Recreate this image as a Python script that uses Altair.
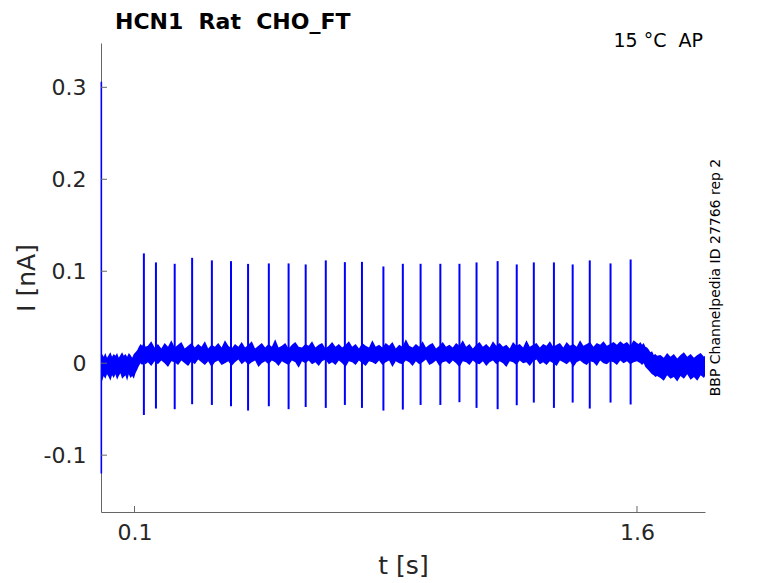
import altair as alt
import pandas as pd

# ---- data ----
# noise envelope of the current trace: time (s), upper edge and lower edge (nA)
t_pre = [0.000, 0.003, 0.008, 0.013, 0.018, 0.023, 0.028, 0.033, 0.038, 0.043, 0.048,
         0.053, 0.058, 0.063, 0.068, 0.073, 0.078, 0.083, 0.088, 0.093, 0.098]
hi_pre = [0.004, 0.010, 0.007, 0.011, 0.006, 0.009, 0.012, 0.007, 0.010, 0.008, 0.011,
          0.006, 0.009, 0.012, 0.008, 0.010, 0.007, 0.011, 0.009, 0.006, 0.010]
lo_pre = [-0.026, -0.020, -0.014, -0.017, -0.012, -0.015, -0.019, -0.013, -0.016, -0.012, -0.018,
          -0.014, -0.011, -0.017, -0.015, -0.013, -0.019, -0.012, -0.016, -0.014, -0.017]

t_rise = [0.103, 0.108, 0.113, 0.118, 0.123, 0.128, 0.133]
hi_rise = [0.012, 0.014, 0.018, 0.021, 0.019, 0.023, 0.018]
lo_rise = [-0.011, -0.007, -0.003, 0.000, -0.002, 0.001, -0.001]

t_mid = [0.14, 0.15, 0.16, 0.17, 0.18, 0.19, 0.20, 0.21, 0.22, 0.23,
         0.24, 0.25, 0.26, 0.27, 0.28, 0.29, 0.30, 0.31, 0.32, 0.33,
         0.34, 0.35, 0.36, 0.37, 0.38, 0.39, 0.40, 0.41, 0.42, 0.43,
         0.44, 0.45, 0.46, 0.47, 0.48, 0.49, 0.50, 0.51, 0.52, 0.53,
         0.54, 0.55, 0.56, 0.57, 0.58, 0.59, 0.60, 0.61, 0.62, 0.63,
         0.64, 0.65, 0.66, 0.67, 0.68, 0.69, 0.70, 0.71, 0.72, 0.73,
         0.74, 0.75, 0.76, 0.77, 0.78, 0.79, 0.80, 0.81, 0.82, 0.83,
         0.84, 0.85, 0.86, 0.87, 0.88, 0.89, 0.90, 0.91, 0.92, 0.93,
         0.94, 0.95, 0.96, 0.97, 0.98, 0.99, 1.00, 1.01, 1.02, 1.03,
         1.04, 1.05, 1.06, 1.07, 1.08, 1.09, 1.10, 1.11, 1.12, 1.13,
         1.14, 1.15, 1.16, 1.17, 1.18, 1.19, 1.20, 1.21, 1.22, 1.23,
         1.24, 1.25, 1.26, 1.27, 1.28, 1.29, 1.30, 1.31, 1.32, 1.33,
         1.34, 1.35, 1.36, 1.37, 1.38, 1.39, 1.40, 1.41, 1.42, 1.43,
         1.44, 1.45, 1.46, 1.47, 1.48, 1.49, 1.50, 1.51, 1.52, 1.53,
         1.54, 1.55, 1.56, 1.57, 1.58, 1.59, 1.60]
hi_mid = [0.019, 0.024, 0.017, 0.021, 0.016, 0.022, 0.018, 0.025, 0.017, 0.020,
          0.023, 0.016, 0.019, 0.022, 0.017, 0.021, 0.018, 0.024, 0.016, 0.020,
          0.018, 0.022, 0.017, 0.025, 0.019, 0.016, 0.021, 0.018, 0.023, 0.017,
          0.020, 0.024, 0.016, 0.019, 0.022, 0.017, 0.021, 0.018, 0.026, 0.017,
          0.019, 0.022, 0.016, 0.020, 0.023, 0.018, 0.017, 0.021, 0.019, 0.024,
          0.017, 0.020, 0.022, 0.016, 0.019, 0.023, 0.018, 0.021, 0.017, 0.020,
          0.024, 0.018, 0.021, 0.016, 0.022, 0.019, 0.017, 0.025, 0.018, 0.020,
          0.017, 0.022, 0.019, 0.023, 0.016, 0.020, 0.018, 0.026, 0.019, 0.017,
          0.021, 0.018, 0.024, 0.017, 0.020, 0.022, 0.016, 0.019, 0.023, 0.018,
          0.020, 0.017, 0.022, 0.019, 0.025, 0.018, 0.021, 0.016, 0.020, 0.023,
          0.018, 0.021, 0.017, 0.024, 0.019, 0.022, 0.018, 0.020, 0.016, 0.023,
          0.019, 0.021, 0.017, 0.025, 0.018, 0.020, 0.022, 0.017, 0.021, 0.019,
          0.024, 0.018, 0.020, 0.022, 0.017, 0.023, 0.019, 0.021, 0.018, 0.025,
          0.019, 0.021, 0.023, 0.018, 0.022, 0.020, 0.024, 0.019, 0.021, 0.023,
          0.020, 0.024, 0.021, 0.023, 0.019, 0.025, 0.022]
lo_mid = [0.001, -0.003, 0.002, -0.001, 0.003, 0.000, -0.004, 0.002, 0.001, -0.002,
          0.003, 0.000, -0.003, 0.002, -0.001, 0.004, 0.001, -0.002, 0.002, -0.004,
          0.001, 0.003, -0.002, 0.000, 0.002, -0.003, 0.001, 0.004, -0.001, 0.002,
          -0.002, 0.001, 0.003, -0.004, 0.000, 0.002, -0.001, 0.003, 0.001, -0.003,
          0.002, 0.000, -0.002, 0.003, 0.001, -0.005, 0.002, 0.000, 0.003, -0.001,
          0.001, -0.003, 0.002, 0.004, -0.001, 0.001, -0.002, 0.003, 0.000, -0.004,
          0.002, 0.001, -0.002, 0.003, 0.000, -0.003, 0.002, 0.001, -0.001, 0.003,
          -0.002, 0.001, 0.003, -0.004, 0.002, 0.000, -0.001, 0.003, 0.001, -0.003,
          0.002, -0.001, 0.001, 0.004, -0.002, 0.000, 0.003, -0.003, 0.001, 0.002,
          -0.001, 0.003, 0.000, -0.004, 0.002, 0.001, -0.002, 0.003, 0.000, -0.001,
          0.002, -0.003, 0.001, 0.003, -0.001, 0.002, 0.000, -0.004, 0.002, 0.001,
          -0.002, 0.003, 0.000, 0.001, -0.003, 0.002, 0.004, -0.001, 0.001, -0.002,
          0.002, 0.000, -0.003, 0.003, 0.001, -0.001, 0.002, -0.004, 0.001, 0.003,
          0.000, -0.002, 0.002, 0.001, -0.003, 0.003, 0.000, -0.001, 0.002, 0.001,
          -0.002, 0.003, 0.000, 0.002, -0.001, 0.001, 0.002]

t_fall = [1.605, 1.610, 1.615, 1.620, 1.625, 1.630, 1.635, 1.640, 1.645, 1.650, 1.655, 1.660]
hi_fall = [0.021, 0.023, 0.020, 0.022, 0.018, 0.017, 0.015, 0.012, 0.013, 0.009, 0.010, 0.008]
lo_fall = [0.001, 0.000, -0.002, 0.000, -0.004, -0.006, -0.008, -0.010, -0.012, -0.013, -0.015, -0.014]

t_end = [1.67, 1.68, 1.69, 1.70, 1.71, 1.72, 1.73, 1.74, 1.75, 1.76, 1.77, 1.78, 1.79, 1.80, 1.803]
hi_end = [0.009, 0.006, 0.011, 0.007, 0.010, 0.005, 0.009, 0.012, 0.007, 0.010, 0.006, 0.009, 0.011, 0.007, 0.008]
lo_end = [-0.016, -0.019, -0.013, -0.017, -0.015, -0.020, -0.014, -0.017, -0.012, -0.018, -0.015, -0.019, -0.013, -0.016, -0.014]

# action-potential-clamp spikes: time (s), peak and trough (nA)
spike_t = [0.128, 0.164, 0.220, 0.272, 0.331, 0.388, 0.439, 0.501, 0.560, 0.611,
           0.671, 0.728, 0.779, 0.843, 0.901, 0.954, 1.013, 1.070, 1.121, 1.184,
           1.241, 1.292, 1.352, 1.408, 1.459, 1.521, 1.581]
spike_top = [0.1194, 0.1096, 0.1081, 0.1146, 0.1118, 0.1110, 0.1080, 0.1085, 0.1085, 0.1074,
             0.1118, 0.1099, 0.1102, 0.1052, 0.1081, 0.1081, 0.1081, 0.1081, 0.1096, 0.1110,
             0.1074, 0.1096, 0.1096, 0.1074, 0.1118, 0.1085, 0.1128]
spike_bot = [-0.0563, -0.0493, -0.0500, -0.0446, -0.0454, -0.0468, -0.0515, -0.0468, -0.0500, -0.0476,
             -0.0486, -0.0454, -0.0486, -0.0515, -0.0504, -0.0454, -0.0454, -0.0424, -0.0486, -0.0500,
             -0.0457, -0.0428, -0.0486, -0.0428, -0.0493, -0.0428, -0.0449]

# capacitive transient at the start of the sweep
trans_t = [0.001]
trans_top = [0.306]
trans_bot = [-0.120]

# axis ticks and ranges
x_ticks = [0.1, 1.6]
y_ticks = [-0.1, 0.0, 0.1, 0.2, 0.3]
x_domain = [0.0, 1.803]
y_domain = [-0.1618, 0.3482]

title_text = "HCN1\u00a0 Rat\u00a0 CHO_FT"
cond_text = "15 °C\u00a0 AP"
id_text = "BBP Channelpedia ID 27766 rep 2"

BLUE = "#0000ff"
AX = "#666666"
FONT = "DejaVu Sans"
W, H = 604, 469

env_df = pd.DataFrame({
    "t": t_pre + t_rise + t_mid + t_fall + t_end,
    "hi": hi_pre + hi_rise + hi_mid + hi_fall + hi_end,
    "lo": lo_pre + lo_rise + lo_mid + lo_fall + lo_end,
})
spk_df = pd.DataFrame({"t": spike_t, "top": spike_top, "bot": spike_bot})
tr_df = pd.DataFrame({"t": trans_t, "top": trans_top, "bot": trans_bot})
xt_df = pd.DataFrame({"t": x_ticks})
yt_df = pd.DataFrame({"I": y_ticks})

xscale = alt.Scale(domain=x_domain, nice=False, zero=False)
yscale = alt.Scale(domain=y_domain, nice=False, zero=False)

x_axis = alt.Axis(values=x_ticks, labelExpr="format(datum.value, '.1f')", ticks=False,
                  grid=False, domainColor=AX, domainWidth=1, labelPadding=10,
                  title="t [s]", titlePadding=10)
y_axis = alt.Axis(values=y_ticks,
                  labelExpr="datum.value < -0.001 ? '-' + format(-datum.value, '.1f') : (abs(datum.value) < 0.001 ? '0' : format(datum.value, '.1f'))",
                  ticks=False, grid=False, domainColor=AX, domainWidth=1, labelPadding=15,
                  title="I [nA]", titlePadding=4)

X = alt.X("t:Q", scale=xscale, axis=x_axis)

band = alt.Chart(env_df).mark_area(color=BLUE, opacity=1, interpolate="linear").encode(
    x=X,
    y=alt.Y("hi:Q", scale=yscale, axis=y_axis),
    y2="lo:Q",
)

spikes = alt.Chart(spk_df).mark_rule(color=BLUE, strokeWidth=2).encode(
    x=X,
    y=alt.Y("top:Q", scale=yscale, axis=y_axis),
    y2="bot:Q",
)

transient = alt.Chart(tr_df).mark_rule(color=BLUE, strokeWidth=1.6).encode(
    x=X,
    y=alt.Y("top:Q", scale=yscale, axis=y_axis),
    y2="bot:Q",
)

yticks = alt.Chart(yt_df).mark_rule(color=AX, strokeWidth=1).encode(
    y=alt.Y("I:Q", scale=yscale, axis=y_axis),
    x=alt.value(0), x2=alt.value(6),
)

xticks = alt.Chart(xt_df).mark_rule(color=AX, strokeWidth=1).encode(
    x=X,
    y=alt.value(H), y2=alt.value(H - 6),
)

title = alt.Chart(pd.DataFrame({"s": [title_text]})).mark_text(
    font=FONT, fontSize=22, fontWeight="bold", color="black", align="left", baseline="alphabetic"
).encode(text="s:N", x=alt.value(14), y=alt.value(-14.5))

cond = alt.Chart(pd.DataFrame({"s": [cond_text]})).mark_text(
    font=FONT, fontSize=19, color="black", align="right", baseline="alphabetic"
).encode(text="s:N", x=alt.value(602), y=alt.value(4))

ident = alt.Chart(pd.DataFrame({"s": [id_text]})).mark_text(
    font=FONT, fontSize=14, color="black", align="center", baseline="middle", angle=270
).encode(text="s:N", x=alt.value(615), y=alt.value(234.5))

chart = alt.layer(band, spikes, transient, yticks, xticks, title, cond, ident).properties(
    width=W, height=H,
    autosize=alt.AutoSizeParams(type="none"),
    padding={"left": 93, "top": 35, "right": 65, "bottom": 71},
).configure(background="white").configure_view(stroke=None).configure_axis(
    labelFont=FONT, labelFontSize=22, labelColor="#262626",
    titleFont=FONT, titleFontSize=25, titleFontWeight="normal", titleColor="#262626",
)

chart.save("out.html", embed_options={"renderer": "svg", "actions": False})
